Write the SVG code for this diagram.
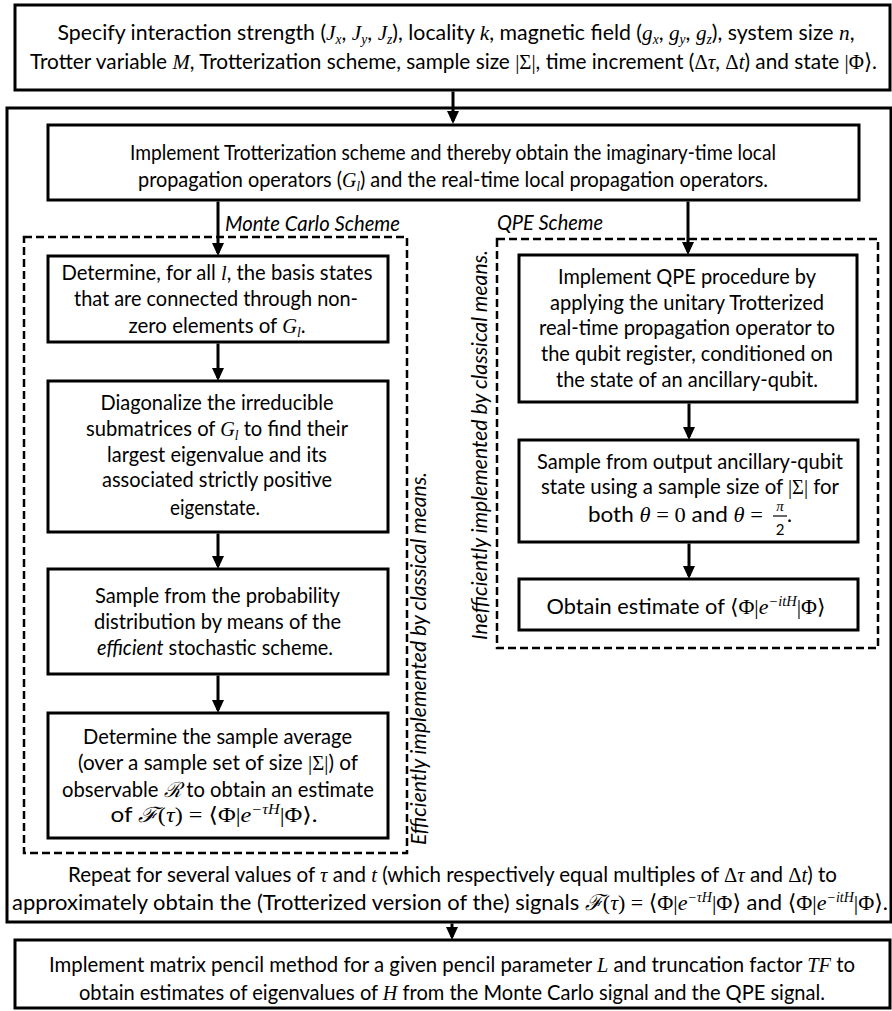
<svg xmlns="http://www.w3.org/2000/svg" width="892" height="1011" viewBox="0 0 892 1011">
<defs>
<style>
.box{fill:#fff;stroke:#000;stroke-width:3}
.dash{fill:none;stroke:#000;stroke-width:2.5;stroke-dasharray:8 4}
.t{font-family:Lato,"Liberation Sans",sans-serif;font-size:21px;text-anchor:middle;fill:#000}
.c{font-size:22px}
.i{font-style:italic}
.st{text-anchor:start}
.m{font-family:"Liberation Serif","DejaVu Serif",serif;font-style:italic}
.s{font-family:"Liberation Serif","DejaVu Serif",serif}
.sub{font-size:14px}
.conn line{stroke:#000;stroke-width:3}
</style>
<marker id="ah" markerWidth="13" markerHeight="12" refX="10" refY="6" orient="auto" markerUnits="userSpaceOnUse"><path d="M0,0 L13,6 L0,12 z" fill="#000"/></marker>
</defs>
<rect width="892" height="1011" fill="#fff"/>

<g id="container">
<rect class="box" x="7" y="108" width="884" height="814"/>
<text class="t c" x="452.5" y="882" textLength="769" lengthAdjust="spacingAndGlyphs">Repeat for several values of <tspan class="m">τ</tspan> and <tspan class="m">t</tspan> (which respectively equal multiples of <tspan class="s">Δ</tspan><tspan class="m">τ</tspan> and <tspan class="s">Δ</tspan><tspan class="m">t</tspan>) to</text>
<text class="t c" x="450" y="910" textLength="876" lengthAdjust="spacingAndGlyphs">approximately obtain the (Trotterized version of the) signals <tspan class="m">ℱ</tspan><tspan class="s">(</tspan><tspan class="m">τ</tspan><tspan class="s">) = ⟨Φ|</tspan><tspan class="m">e</tspan><tspan class="m sub" dy="-8">−τH</tspan><tspan class="s" dy="8">|Φ⟩</tspan> and <tspan class="s">⟨Φ|</tspan><tspan class="m">e</tspan><tspan class="m sub" dy="-8">−itH</tspan><tspan class="s" dy="8">|Φ⟩</tspan>.</text>
</g>

<g id="top">
<rect class="box" x="15" y="5" width="875" height="85"/>
<text class="t c" x="456" y="40" textLength="797" lengthAdjust="spacingAndGlyphs">Specify interaction strength (<tspan class="m">J</tspan><tspan class="m sub" dy="4">x</tspan><tspan dy="-4">, </tspan><tspan class="m">J</tspan><tspan class="m sub" dy="4">y</tspan><tspan dy="-4">, </tspan><tspan class="m">J</tspan><tspan class="m sub" dy="4">z</tspan><tspan dy="-4">), locality </tspan><tspan class="m">k</tspan>, magnetic field (<tspan class="m">g</tspan><tspan class="m sub" dy="4">x</tspan><tspan dy="-4">, </tspan><tspan class="m">g</tspan><tspan class="m sub" dy="4">y</tspan><tspan dy="-4">, </tspan><tspan class="m">g</tspan><tspan class="m sub" dy="4">z</tspan><tspan dy="-4">), system size </tspan><tspan class="m">n</tspan>,</text>
<text class="t c" x="453.5" y="69" textLength="847" lengthAdjust="spacingAndGlyphs">Trotter variable <tspan class="m">M</tspan>, Trotterization scheme, sample size <tspan class="s">|Σ|</tspan>, time increment (<tspan class="s">Δ</tspan><tspan class="m">τ</tspan>, <tspan class="s">Δ</tspan><tspan class="m">t</tspan>) and state <tspan class="s">|Φ⟩</tspan>.</text>
</g>

<g id="trotterization">
<rect class="box" x="48" y="125" width="811" height="75"/>
<text class="t c" x="453" y="160" textLength="646" lengthAdjust="spacingAndGlyphs">Implement Trotterization scheme and thereby obtain the imaginary-time local</text>
<text class="t c" x="453" y="187" textLength="630" lengthAdjust="spacingAndGlyphs">propagation operators (<tspan class="m">G</tspan><tspan class="m sub" dy="4">l</tspan><tspan dy="-4">) and the real-time local propagation operators.</tspan></text>
</g>

<g id="monte-carlo-scheme">
<rect class="dash" x="24" y="237" width="383" height="616"/>
<text class="t i st" x="225" y="231" textLength="175" lengthAdjust="spacingAndGlyphs">Monte Carlo Scheme</text>
<text class="t i st" transform="translate(426,845) rotate(-90)" textLength="373" lengthAdjust="spacingAndGlyphs">Efficiently implemented by classical means.</text>
</g>

<g id="mc1">
<rect class="box" x="48" y="256" width="340" height="86"/>
<text class="t" x="217" y="280" textLength="311" lengthAdjust="spacingAndGlyphs">Determine, for all <tspan class="m">l</tspan>, the basis states</text>
<text class="t" x="216" y="306" textLength="284" lengthAdjust="spacingAndGlyphs">that are connected through non-</text>
<text class="t" x="217" y="333" textLength="177" lengthAdjust="spacingAndGlyphs">zero elements of <tspan class="m">G</tspan><tspan class="m sub" dy="4">l</tspan><tspan dy="-4">.</tspan></text>
</g>

<g id="mc2">
<rect class="box" x="48" y="381" width="340" height="151"/>
<text class="t" x="217" y="410" textLength="233" lengthAdjust="spacingAndGlyphs">Diagonalize the irreducible</text>
<text class="t" x="217" y="436" textLength="262" lengthAdjust="spacingAndGlyphs">submatrices of <tspan class="m">G</tspan><tspan class="m sub" dy="4">l</tspan><tspan dy="-4"> to find their</tspan></text>
<text class="t" x="217" y="462" textLength="220" lengthAdjust="spacingAndGlyphs">largest eigenvalue and its</text>
<text class="t" x="217" y="487" textLength="230" lengthAdjust="spacingAndGlyphs">associated strictly positive</text>
<text class="t" x="215" y="515" textLength="90" lengthAdjust="spacingAndGlyphs">eigenstate.</text>
</g>

<g id="mc3">
<rect class="box" x="48" y="569" width="340" height="105"/>
<text class="t" x="217.5" y="603" textLength="245" lengthAdjust="spacingAndGlyphs">Sample from the probability</text>
<text class="t" x="217.5" y="629" textLength="247" lengthAdjust="spacingAndGlyphs">distribution by means of the</text>
<text class="t" x="215" y="655" textLength="236" lengthAdjust="spacingAndGlyphs"><tspan class="i">efficient</tspan> stochastic scheme.</text>
</g>

<g id="mc4">
<rect class="box" x="48" y="713" width="340" height="125"/>
<text class="t" x="217.5" y="744" textLength="269" lengthAdjust="spacingAndGlyphs">Determine the sample average</text>
<text class="t" x="218" y="770" textLength="280" lengthAdjust="spacingAndGlyphs">(over a sample set of size <tspan class="s">|Σ|</tspan>) of</text>
<text class="t" x="218" y="797" textLength="312" lengthAdjust="spacingAndGlyphs">observable <tspan class="m">ℛ</tspan> to obtain an estimate</text>
<text class="t" x="214" y="822" textLength="207" lengthAdjust="spacingAndGlyphs">of <tspan class="m">ℱ</tspan><tspan class="s">(</tspan><tspan class="m">τ</tspan><tspan class="s">) = ⟨Φ|</tspan><tspan class="m">e</tspan><tspan class="m sub" dy="-8">−τH</tspan><tspan class="s" dy="8">|Φ⟩</tspan>.</text>
</g>

<g id="qpe-scheme">
<rect class="dash" x="497" y="239" width="381" height="409"/>
<text class="t i st" x="497" y="230" textLength="106" lengthAdjust="spacingAndGlyphs">QPE Scheme</text>
<text class="t i st" transform="translate(487,640) rotate(-90)" textLength="390" lengthAdjust="spacingAndGlyphs">Inefficiently implemented by classical means.</text>
</g>

<g id="qpe1">
<rect class="box" x="519" y="255" width="338" height="147"/>
<text class="t" x="687" y="284" textLength="258" lengthAdjust="spacingAndGlyphs">Implement QPE procedure by</text>
<text class="t" x="687" y="310" textLength="274" lengthAdjust="spacingAndGlyphs">applying the unitary Trotterized</text>
<text class="t" x="687" y="335" textLength="296" lengthAdjust="spacingAndGlyphs">real-time propagation operator to</text>
<text class="t" x="687" y="361" textLength="292" lengthAdjust="spacingAndGlyphs">the qubit register, conditioned on</text>
<text class="t" x="687" y="387" textLength="262" lengthAdjust="spacingAndGlyphs">the state of an ancillary-qubit.</text>
</g>

<g id="qpe2">
<rect class="box" x="519" y="440" width="339" height="102"/>
<text class="t" x="690" y="469" textLength="306" lengthAdjust="spacingAndGlyphs">Sample from output ancillary-qubit</text>
<text class="t" x="690" y="494" textLength="298" lengthAdjust="spacingAndGlyphs">state using a sample size of <tspan class="s">|Σ|</tspan> for</text>
<text class="t st" x="588" y="522" textLength="175" lengthAdjust="spacingAndGlyphs">both <tspan class="m">θ</tspan> <tspan class="s">= 0</tspan> and <tspan class="m">θ</tspan> <tspan class="s">=</tspan></text>
<text class="t" x="780" y="511" style="font-size:15px"><tspan class="m">π</tspan></text>
<line x1="773" y1="516" x2="787" y2="516" stroke="#000" stroke-width="1.2"/>
<text class="t" x="780" y="535" style="font-size:15px">2</text>
<text class="t st" x="787" y="522">.</text>
</g>

<g id="qpe3">
<rect class="box" x="519" y="579" width="339" height="51"/>
<text class="t" x="686" y="614" textLength="279" lengthAdjust="spacingAndGlyphs">Obtain estimate of <tspan class="s">⟨Φ|</tspan><tspan class="m">e</tspan><tspan class="m sub" dy="-8">−itH</tspan><tspan class="s" dy="8">|Φ⟩</tspan></text>
</g>

<g id="matrix-pencil">
<rect class="box" x="15" y="940" width="875" height="68"/>
<text class="t c" x="452" y="972" textLength="806" lengthAdjust="spacingAndGlyphs">Implement matrix pencil method for a given pencil parameter <tspan class="m">L</tspan> and truncation factor <tspan class="m">TF</tspan> to</text>
<text class="t c" x="452" y="1000" textLength="746" lengthAdjust="spacingAndGlyphs">obtain estimates of eigenvalues of <tspan class="m">H</tspan> from the Monte Carlo signal and the QPE signal.</text>
</g>

<g id="connectors" class="conn">
<line x1="453" y1="91.5" x2="453" y2="121" marker-end="url(#ah)"/>
<line x1="218" y1="201.5" x2="218" y2="253" marker-end="url(#ah)"/>
<line x1="688" y1="201.5" x2="688" y2="252" marker-end="url(#ah)"/>
<line x1="218" y1="343.5" x2="218" y2="378" marker-end="url(#ah)"/>
<line x1="218" y1="533.5" x2="218" y2="566" marker-end="url(#ah)"/>
<line x1="218" y1="675.5" x2="218" y2="710" marker-end="url(#ah)"/>
<line x1="689" y1="403.5" x2="689" y2="437" marker-end="url(#ah)"/>
<line x1="689" y1="543.5" x2="689" y2="576" marker-end="url(#ah)"/>
<line x1="452" y1="923.5" x2="452" y2="937" marker-end="url(#ah)"/>
</g>
</svg>
